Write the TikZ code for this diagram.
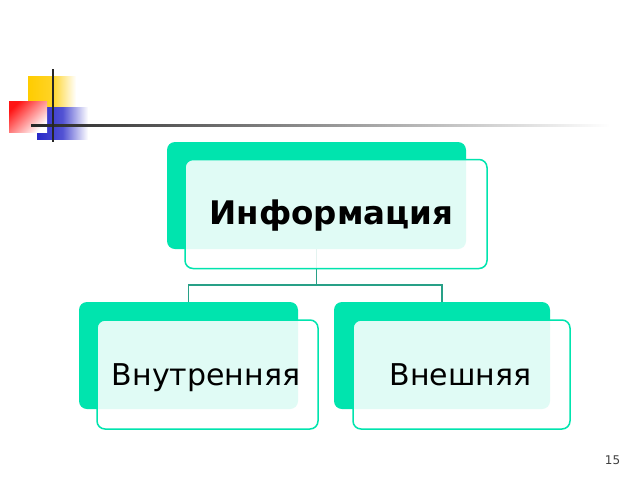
\documentclass[tikz,border=0pt]{standalone}
\usepackage{fontspec}
\setmainfont{DejaVu Sans}
\begin{document}
\begin{tikzpicture}[x=1pt,y=-1pt,
  backbox/.style={draw=none,fill=mint,rounded corners=8pt,inner sep=0pt},
  frontbox/.style={draw=mint,line width=1.5pt,fill=white,fill opacity=0.88,rounded corners=8pt,inner sep=0pt},
  conn/.style={draw=connc,line width=1.2pt},
  lbl/.style={inner sep=0pt,anchor=base}]
\definecolor{mint}{RGB}{0,228,174}
\definecolor{connc}{RGB}{40,160,135}
\definecolor{yel}{RGB}{255,204,0}
\definecolor{redd}{RGB}{255,20,20}
\definecolor{blu}{RGB}{40,40,200}
\useasboundingbox (0,0) rectangle (640,480);
\fill[white] (0,0) rectangle (640,480);
% decoration
\shade[left color=yel, right color=white, middle color=yel!85!white] (28,76) rectangle (76,107);
\shade[left color=blu, right color=white, middle color=blu!80!white] (37,107) rectangle (88,139);
\shade[shading=axis, top color=redd, bottom color=white, shading angle=45] (9,101) rectangle (47,132);
\shade[left color=black!85, right color=white] (31,124.2) rectangle (610,126.8);
\fill[black!85] (52,69) rectangle (54.2,142);
% boxes
\node[backbox, minimum width=299pt, minimum height=107pt] (tb) at (316.5,195.5) {};
\node[backbox, minimum width=219pt, minimum height=107pt] (lb) at (188.5,355.5) {};
\node[backbox, minimum width=216pt, minimum height=107pt] (rb) at (442,355.5) {};
\coordinate (bar) at (316.5,285);
\draw[conn] (tb.south) -- (bar);
\draw[conn] (lb.north) |- (bar) -| (rb.north);
\node[frontbox, minimum width=302pt, minimum height=109pt] (tf) at (336,214) {};
\node[frontbox, minimum width=221pt, minimum height=109pt] (lf) at (207.5,374.5) {};
\node[frontbox, minimum width=217pt, minimum height=109pt] (rf) at (461.5,374.5) {};
\node[lbl, font=\fontsize{32.5}{32.5}\selectfont\bfseries] (tt) at (331.5,224) {Информация};
\node[lbl, font=\fontsize{30}{30}\selectfont] (lt) at (206,385) {Внутренняя};
\node[lbl, font=\fontsize{30}{30}\selectfont] (rt) at (460.5,385) {Внешняя};
\node[lbl, font=\fontsize{12}{12}\selectfont, text=black!75] (pn) at (612.5,464) {15};
\end{tikzpicture}
\end{document}
